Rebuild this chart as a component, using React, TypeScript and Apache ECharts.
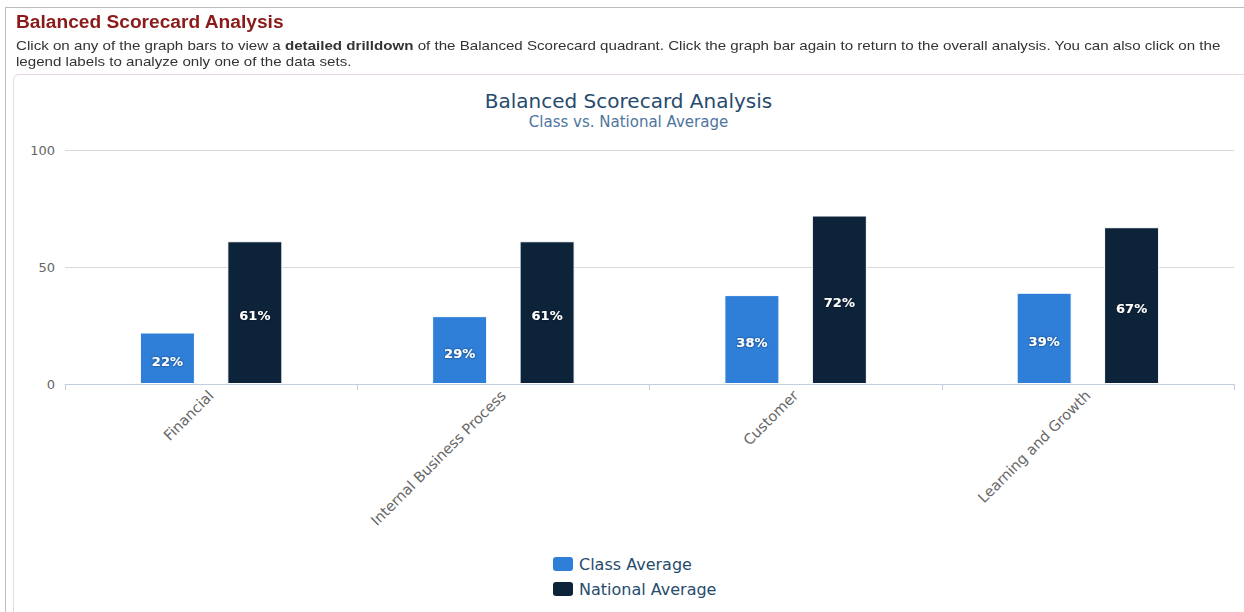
import React, { useEffect, useRef } from "react";
import * as echarts from "echarts";

const categories = ["Financial", "Internal Business Process", "Customer", "Learning and Growth"];
const classAverage = [22, 29, 38, 39];
const nationalAverage = [61, 61, 72, 67];
const seriesNames = ["Class Average", "National Average"];
const yTicks = [0, 50, 100];

const FONT = "'DejaVu Sans', Verdana, sans-serif";

export default function App() {
  const ref = useRef<HTMLDivElement>(null);
  useEffect(() => {
    if (!ref.current) return;
    const chart = echarts.init(ref.current, undefined, { renderer: "svg" });
    const labelStyle = {
      show: true,
      position: "inside" as const,
      offset: [0, 3],
      formatter: (p: any) => p.value + "%",
      color: "#ffffff",
      fontFamily: FONT,
      fontWeight: "bold" as const,
      fontSize: 13,
      textShadowColor: "rgba(0,0,0,0.6)",
      textShadowBlur: 2,
    };
    chart.setOption({
      animation: false,
      textStyle: { fontFamily: FONT },
      title: {
        text: "Balanced Scorecard Analysis",
        subtext: "Class vs. National Average",
        left: "center",
        top: 86,
        itemGap: 3,
        textStyle: { fontFamily: FONT, fontSize: 20, fontWeight: "normal", color: "#274b6d" },
        subtextStyle: { fontFamily: FONT, fontSize: 15, color: "#4d759e" },
      },
      legend: {
        orient: "vertical",
        left: 533,
        top: 550,
        itemWidth: 22,
        itemHeight: 16,
        itemGap: 7,
        icon: "roundRect",
        data: seriesNames,
        textStyle: { fontFamily: FONT, fontSize: 16, color: "#274b6d" },
      },
      grid: { left: 52, right: 10, top: 150, bottom: 228, containLabel: false },
      xAxis: {
        type: "category",
        data: categories,
        axisLine: { lineStyle: { color: "#c0d0e0", width: 1 } },
        axisTick: { show: true, length: 6, lineStyle: { color: "#c0d0e0" } },
        axisLabel: {
          rotate: 45,
          interval: 0,
          margin: 9,
          fontFamily: FONT,
          fontSize: 14.5,
          color: "#666666",
        },
      },
      yAxis: {
        type: "value",
        min: 0,
        max: 100,
        interval: 50,
        axisLine: { show: false },
        axisTick: { show: false },
        splitLine: { lineStyle: { color: "#d8d8d8", width: 1 } },
        axisLabel: {
          margin: 10,
          fontFamily: FONT,
          fontSize: 13,
          color: "#666666",
          formatter: (v: number) => (yTicks.includes(v) ? String(v) : ""),
        },
      },
      series: [
        {
          name: seriesNames[0],
          type: "bar",
          data: classAverage,
          barWidth: 55,
          barGap: "59%",
          itemStyle: { color: "#2f7ed8", borderColor: "#ffffff", borderWidth: 1 },
          label: labelStyle,
        },
        {
          name: seriesNames[1],
          type: "bar",
          data: nationalAverage,
          barWidth: 55,
          itemStyle: { color: "#0d233a", borderColor: "#ffffff", borderWidth: 1 },
          label: labelStyle,
        },
      ],
    });
    return () => chart.dispose();
  }, []);

  return (
    <div style={{ position: "absolute", left: 0, top: 0, width: 1244, height: 612, overflow: "hidden", background: "#fff" }}>
      <div style={{ position: "absolute", left: 5, top: 7, right: -2, bottom: -2, borderTop: "1px solid #bdbdbd", borderLeft: "1px solid #bdbdbd" }} />
      <div
        style={{
          position: "absolute",
          left: 16,
          top: 12,
          fontFamily: "'Liberation Sans', Arial, sans-serif",
          fontWeight: "bold",
          fontSize: 18,
          lineHeight: "20px",
          color: "#8b1a1a",
          whiteSpace: "nowrap",
          transform: "scaleX(1.064)",
          transformOrigin: "0 0",
        }}
      >
        Balanced Scorecard Analysis
      </div>
      <div
        style={{
          position: "absolute",
          left: 16,
          top: 38,
          fontFamily: "'Liberation Sans', Arial, sans-serif",
          fontSize: 13.5,
          lineHeight: "15.5px",
          color: "#333",
          whiteSpace: "nowrap",
          transform: "scaleX(1.12)",
          transformOrigin: "0 0",
        }}
      >
        Click on any of the graph bars to view a <b>detailed drilldown</b> of the Balanced Scorecard quadrant. Click the graph bar again to return to the overall analysis. You can also click on the
        <br />
        legend labels to analyze only one of the data sets.
      </div>
      <div
        style={{
          position: "absolute",
          left: 13,
          top: 74,
          width: 1240,
          height: 560,
          border: "1px solid #e6d6e6",
          borderRadius: 6,
        }}
      />
      <div ref={ref} style={{ position: "absolute", left: 13, top: 0, width: 1231, height: 612 }} />
    </div>
  );
}
